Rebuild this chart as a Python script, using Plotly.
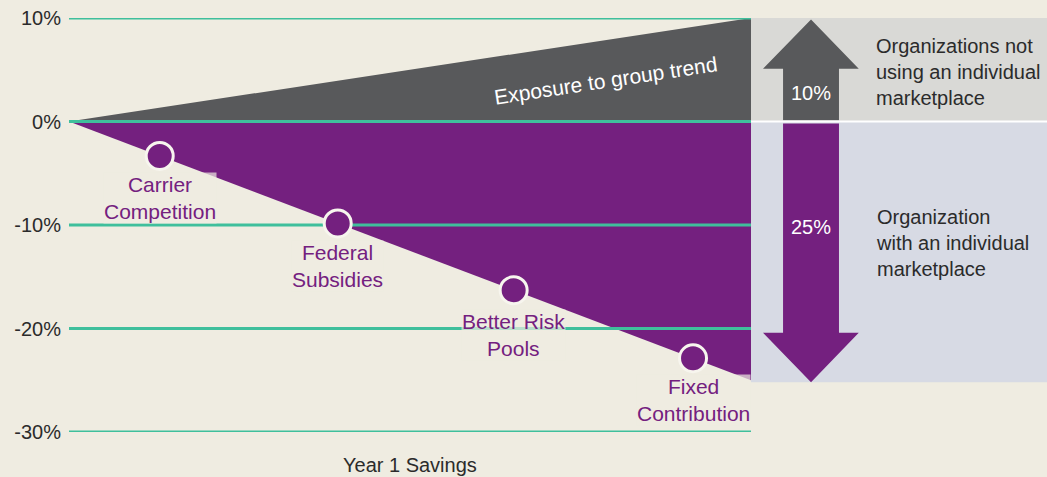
import plotly.graph_objects as go

# ---- data ----
y_ticks = [10, 0, -10, -20, -30]
tick_labels = ["10%", "0%", "-10%", "-20%", "-30%"]
group_trend = 10          # % exposure without individual marketplace
marketplace_saving = -25  # % with individual marketplace
lever_names = ["Carrier<br>Competition", "Federal<br>Subsidies", "Better Risk<br>Pools", "Fixed<br>Contribution"]
lever_pos = [0.133, 0.394, 0.652, 0.915]   # fraction of year 1
lever_label_y = [-7.4, -14.0, -20.6, -26.9]
panel_labels = ["Organizations not<br>using an individual<br>marketplace", "Organization<br>with an individual<br>marketplace"]
arrow_labels = ["10%", "25%"]
x_title = "Year 1 Savings"

BG = "#efece1"
PURPLE = "#74207f"
GRAY = "#58595b"
TEAL = "#3fbf9c"
FONT = "Liberation Sans"

fig = go.Figure()

# triangles
fig.add_trace(go.Scatter(x=[0, 1, 1, 0], y=[0, group_trend, 0, 0], fill="toself",
                         fillcolor=GRAY, line=dict(width=0), mode="lines", hoverinfo="skip"))
fig.add_trace(go.Scatter(x=[0, 1, 1, 0], y=[0, 0, marketplace_saving, 0], fill="toself",
                         fillcolor=PURPLE, line=dict(width=0), mode="lines", hoverinfo="skip"))

# gridlines
for v in y_ticks:
    fig.add_trace(go.Scatter(x=[0, 1], y=[v, v], mode="lines",
                             line=dict(color=TEAL, width=3), hoverinfo="skip"))

# lever circles on the savings line
lever_y = [marketplace_saving * p for p in lever_pos]
fig.add_trace(go.Scatter(x=lever_pos, y=lever_y, mode="markers",
                         marker=dict(size=27, color=PURPLE, line=dict(color="#f7f5ee", width=3)),
                         hoverinfo="skip"))

# right panel
xr = 1.45
fig.add_shape(type="rect", x0=1, x1=xr, y0=0, y1=group_trend, fillcolor="#d9d9d6",
              line=dict(width=0), layer="below")
fig.add_shape(type="rect", x0=1, x1=xr, y0=marketplace_saving - 0.2, y1=0, fillcolor="#d7dae4",
              line=dict(width=0), layer="below")

# arrows
sx0, sx1, hx0, hx1, cx = 1.047, 1.129, 1.0176, 1.158, 1.088
up = f"M {sx0} 0.12 L {sx0} 5.1 L {hx0} 5.1 L {cx} {group_trend - 0.15} L {hx1} 5.1 L {sx1} 5.1 L {sx1} 0.12 Z"
fig.add_shape(type="path", path=up, fillcolor=GRAY, line=dict(width=0))
down = f"M {sx0} -0.2 L {sx0} -20.4 L {hx0} -20.4 L {cx} {marketplace_saving - 0.2} L {hx1} -20.4 L {sx1} -20.4 L {sx1} -0.2 Z"
fig.add_shape(type="path", path=down, fillcolor=PURPLE, line=dict(width=0))
fig.add_shape(type="line", x0=1, x1=xr, y0=0, y1=0, line=dict(color="white", width=2))

# annotations
for name, x, y in zip(lever_names, lever_pos, lever_label_y):
    fig.add_annotation(x=x, y=y, text=name, showarrow=False,
                       font=dict(family=FONT, size=21, color=PURPLE),
                       bgcolor="rgba(239,236,225,0.7)", borderpad=0)

fig.add_annotation(x=0.786, y=4.0, text="Exposure to group trend", showarrow=False,
                   textangle=-8.6, font=dict(family=FONT, size=21, color="white"))

fig.add_annotation(x=cx, y=2.75, text=arrow_labels[0], showarrow=False,
                   font=dict(family=FONT, size=20, color="white"))
fig.add_annotation(x=cx, y=-10.2, text=arrow_labels[1], showarrow=False,
                   font=dict(family=FONT, size=20, color="white"))

fig.add_annotation(x=1.18, y=4.8, text=panel_labels[0], showarrow=False, xanchor="left",
                   align="left", font=dict(family=FONT, size=20, color="#2b2b2b"))
fig.add_annotation(x=1.18, y=-11.7, text=panel_labels[1], showarrow=False, xanchor="left",
                   align="left", font=dict(family=FONT, size=20, color="#2b2b2b"))

fig.add_annotation(x=0.5, xref="x", y=-0.08, yref="paper", yanchor="middle", text=x_title,
                   showarrow=False, font=dict(family=FONT, size=20, color="#2b2b2b"))

fig.update_layout(
    width=1047, height=477,
    margin=dict(l=69, r=0, t=18, b=45),
    paper_bgcolor=BG, plot_bgcolor=BG,
    showlegend=False,
    xaxis=dict(range=[0, 978 / 682], visible=False, fixedrange=True),
    yaxis=dict(range=[-30, 10], tickvals=y_ticks, ticktext=tick_labels, showgrid=False,
               zeroline=False, showline=False, ticks="", ticklabelstandoff=7,
               tickfont=dict(family=FONT, size=20, color="#2b2b2b"), fixedrange=True),
)
fig.write_html("out.html", config={"displayModeBar": False},
               post_script="document.body.style.margin='0';document.body.style.overflow='hidden';")
